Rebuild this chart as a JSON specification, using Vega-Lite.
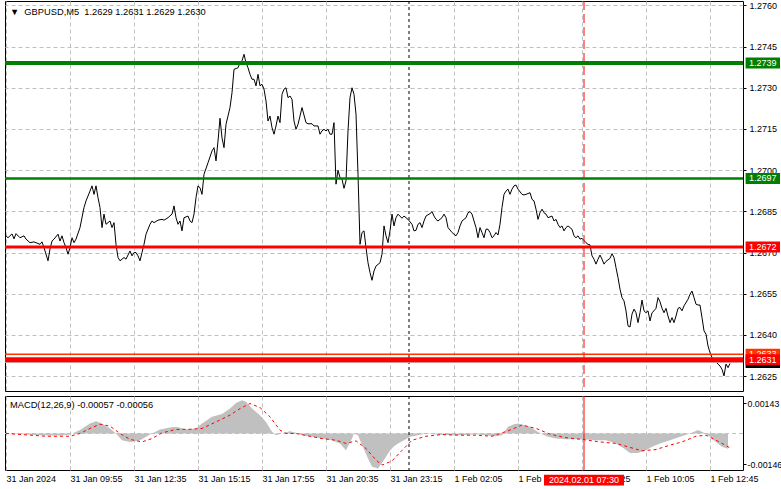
{
  "$schema": "https://vega.github.io/schema/vega-lite/v6.json",
  "background": "white",
  "padding": {"left": 2, "top": 0, "right": 2, "bottom": 0},
  "spacing": 3,
  "config": {
    "view": {"stroke": "#000000", "strokeWidth": 1},
    "font": "Liberation Sans",
    "axis": {"labelFont": "Liberation Sans", "labelFontSize": 9, "labelColor": "#000000", "gridColor": "#C0C0C0", "gridDash": [4, 3], "gridWidth": 1, "gridOpacity": 1, "tickColor": "#000000", "domain": false, "title": null, "labelFlush": false, "labelOverlap": false, "zindex": 0}
  },
  "datasets": {
    "one": [{}],
    "price": [
      {"bar":0,"close":1.26761},{"bar":1,"close":1.26754},{"bar":3,"close":1.26768},{"bar":4,"close":1.26750},{"bar":5,"close":1.26769},{"bar":7,"close":1.26754},{"bar":9,"close":1.26761},{"bar":10,"close":1.26749},{"bar":12,"close":1.26736},{"bar":14,"close":1.26739},{"bar":15,"close":1.26736},{"bar":17,"close":1.26730},{"bar":18,"close":1.26739},{"bar":19,"close":1.26718},{"bar":21,"close":1.26670},{"bar":22,"close":1.26713},{"bar":23,"close":1.26742},{"bar":24,"close":1.26749},{"bar":26,"close":1.26767},{"bar":27,"close":1.26742},{"bar":28,"close":1.26761},{"bar":29,"close":1.26736},{"bar":30,"close":1.26718},{"bar":31,"close":1.26694},{"bar":32,"close":1.26718},{"bar":33,"close":1.26754},{"bar":34,"close":1.26736},{"bar":35,"close":1.26749},{"bar":37,"close":1.26791},{"bar":39,"close":1.26864},{"bar":40,"close":1.26888},{"bar":42,"close":1.26924},{"bar":43,"close":1.26943},{"bar":44,"close":1.26912},{"bar":45,"close":1.26943},{"bar":46,"close":1.26900},{"bar":47,"close":1.26864},{"bar":48,"close":1.26791},{"bar":49,"close":1.26840},{"bar":50,"close":1.26803},{"bar":52,"close":1.26815},{"bar":53,"close":1.26791},{"bar":54,"close":1.26809},{"bar":55,"close":1.26730},{"bar":56,"close":1.26682},{"bar":57,"close":1.26670},{"bar":59,"close":1.26682},{"bar":60,"close":1.26676},{"bar":62,"close":1.26706},{"bar":63,"close":1.26688},{"bar":64,"close":1.26700},{"bar":65,"close":1.26700},{"bar":66,"close":1.26688},{"bar":67,"close":1.26670},{"bar":68,"close":1.26700},{"bar":69,"close":1.26730},{"bar":70,"close":1.26767},{"bar":72,"close":1.26803},{"bar":73,"close":1.26815},{"bar":74,"close":1.26809},{"bar":76,"close":1.26818},{"bar":78,"close":1.26821},{"bar":79,"close":1.26818},{"bar":81,"close":1.26827},{"bar":83,"close":1.26840},{"bar":84,"close":1.26870},{"bar":85,"close":1.26827},{"bar":86,"close":1.26803},{"bar":87,"close":1.26815},{"bar":88,"close":1.26779},{"bar":89,"close":1.26827},{"bar":91,"close":1.26833},{"bar":92,"close":1.26815},{"bar":93,"close":1.26809},{"bar":94,"close":1.26840},{"bar":95,"close":1.26900},{"bar":96,"close":1.26943},{"bar":97,"close":1.26936},{"bar":98,"close":1.26912},
      {"bar":99,"close":1.26985},{"bar":101,"close":1.27027},{"bar":103,"close":1.27070},{"bar":104,"close":1.27082},{"bar":105,"close":1.27034},{"bar":106,"close":1.27106},{"bar":107,"close":1.27189},{"bar":108,"close":1.27118},{"bar":109,"close":1.27082},{"bar":110,"close":1.27167},{"bar":112,"close":1.27228},{"bar":113,"close":1.27282},{"bar":114,"close":1.27367},{"bar":116,"close":1.27373},{"bar":117,"close":1.27391},{"bar":118,"close":1.27398},{"bar":119,"close":1.27422},{"bar":120,"close":1.27391},{"bar":121,"close":1.27373},{"bar":122,"close":1.27349},{"bar":123,"close":1.27331},{"bar":124,"close":1.27331},{"bar":125,"close":1.27307},{"bar":126,"close":1.27349},{"bar":127,"close":1.27307},{"bar":128,"close":1.27313},{"bar":129,"close":1.27295},{"bar":130,"close":1.27252},{"bar":131,"close":1.27179},{"bar":132,"close":1.27197},{"bar":133,"close":1.27155},{"bar":134,"close":1.27131},{"bar":135,"close":1.27161},{"bar":136,"close":1.27197},{"bar":137,"close":1.27173},{"bar":138,"close":1.27276},{"bar":139,"close":1.27295},{"bar":140,"close":1.27300},{"bar":141,"close":1.27264},{"bar":142,"close":1.27270},{"bar":143,"close":1.27258},{"bar":144,"close":1.27179},{"bar":145,"close":1.27149},{"bar":146,"close":1.27167},{"bar":147,"close":1.27197},{"bar":148,"close":1.27228},{"bar":150,"close":1.27173},{"bar":151,"close":1.27169},{"bar":153,"close":1.27169},{"bar":154,"close":1.27161},{"bar":156,"close":1.27161},{"bar":157,"close":1.27131},{"bar":158,"close":1.27143},{"bar":159,"close":1.27149},{"bar":160,"close":1.27143},{"bar":161,"close":1.27149},{"bar":162,"close":1.27131},{"bar":163,"close":1.27131},{"bar":164,"close":1.27173},{"bar":165,"close":1.26949},{"bar":166,"close":1.27000},{"bar":167,"close":1.26973},{"bar":168,"close":1.26967},{"bar":169,"close":1.26934},{"bar":170,"close":1.26961},{"bar":171,"close":1.27143},{"bar":172,"close":1.27264},{"bar":173,"close":1.27300},{"bar":174,"close":1.27276},{"bar":175,"close":1.27204},{"bar":176,"close":1.26985},{"bar":177,"close":1.26730},{"bar":178,"close":1.26773},{"bar":179,"close":1.26779},{"bar":180,"close":1.26718},{"bar":181,"close":1.26663},{"bar":182,"close":1.26627},{"bar":183,"close":1.26599},{"bar":184,"close":1.26633},{"bar":185,"close":1.26651},{"bar":187,"close":1.26663},{"bar":188,"close":1.26694},{"bar":189,"close":1.26797},{"bar":190,"close":1.26761},{"bar":191,"close":1.26736},{"bar":192,"close":1.26779},{"bar":193,"close":1.26840},{"bar":194,"close":1.26797},{"bar":195,"close":1.26827},{"bar":196,"close":1.26840},{"bar":198,"close":1.26825},{"bar":199,"close":1.26833},{"bar":200,"close":1.26827},{"bar":201,"close":1.26821},{"bar":203,"close":1.26803},{"bar":204,"close":1.26779},{"bar":205,"close":1.26781},{"bar":206,"close":1.26803},{"bar":207,"close":1.26809},{"bar":208,"close":1.26791},{"bar":209,"close":1.26815},{"bar":210,"close":1.26833},{"bar":212,"close":1.26842},{"bar":213,"close":1.26849},{"bar":214,"close":1.26833},{"bar":215,"close":1.26821},{"bar":216,"close":1.26815},{"bar":218,"close":1.26827},{"bar":219,"close":1.26840},{"bar":220,"close":1.26827},{"bar":221,"close":1.26791},{"bar":223,"close":1.26773},{"bar":224,"close":1.26767},{"bar":225,"close":1.26761},{"bar":226,"close":1.26773},{"bar":227,"close":1.26797},{"bar":228,"close":1.26815},{"bar":230,"close":1.26827},{"bar":231,"close":1.26845},{"bar":232,"close":1.26849},{"bar":233,"close":1.26840},{"bar":234,"close":1.26815},{"bar":235,"close":1.26791},{"bar":236,"close":1.26754},{"bar":237,"close":1.26791},{"bar":238,"close":1.26773},{"bar":239,"close":1.26754},{"bar":240,"close":1.26785},{"bar":241,"close":1.26785},{"bar":242,"close":1.26773},{"bar":243,"close":1.26754},{"bar":244,"close":1.26761},{"bar":245,"close":1.26773},{"bar":246,"close":1.26764},{"bar":247,"close":1.26803},{"bar":248,"close":1.26864},{"bar":249,"close":1.26912},{"bar":250,"close":1.26924},{"bar":251,"close":1.26931},{"bar":252,"close":1.26912},{"bar":253,"close":1.26931},{"bar":254,"close":1.26943},{"bar":255,"close":1.26946},{"bar":256,"close":1.26931},{"bar":258,"close":1.26912},{"bar":259,"close":1.26910},{"bar":260,"close":1.26912},{"bar":262,"close":1.26918},{"bar":263,"close":1.26894},{"bar":264,"close":1.26888},{"bar":265,"close":1.26858},{"bar":266,"close":1.26821},{"bar":267,"close":1.26845},{"bar":268,"close":1.26858},{"bar":269,"close":1.26845},{"bar":270,"close":1.26840},{"bar":271,"close":1.26827},{"bar":273,"close":1.26833},{"bar":274,"close":1.26815},{"bar":275,"close":1.26821},{"bar":276,"close":1.26803},{"bar":277,"close":1.26791},{"bar":278,"close":1.26797},{"bar":279,"close":1.26779},{"bar":280,"close":1.26791},{"bar":281,"close":1.26797},{"bar":283,"close":1.26785},{"bar":284,"close":1.26761},{"bar":285,"close":1.26754},{"bar":286,"close":1.26761},{"bar":287,"close":1.26749},{"bar":288,"close":1.26752},{"bar":290,"close":1.26736},{"bar":291,"close":1.26730},{"bar":292,"close":1.26728},{"bar":293,"close":1.26688},{"bar":294,"close":1.26676},{"bar":295,"close":1.26658},{"bar":296,"close":1.26676},{"bar":297,"close":1.26691},{"bar":298,"close":1.26676},{"bar":299,"close":1.26658},{"bar":300,"close":1.26668},{"bar":302,"close":1.26679},{"bar":303,"close":1.26696},{"bar":304,"close":1.26682},{"bar":305,"close":1.26645},{"bar":306,"close":1.26609},{"bar":307,"close":1.26567},{"bar":308,"close":1.26536},{"bar":309,"close":1.26524},{"bar":310,"close":1.26488},{"bar":311,"close":1.26433},{"bar":312,"close":1.26429},{"bar":313,"close":1.26476},{"bar":314,"close":1.26494},{"bar":315,"close":1.26481},{"bar":316,"close":1.26445},{"bar":317,"close":1.26481},{"bar":318,"close":1.26527},{"bar":319,"close":1.26488},{"bar":320,"close":1.26481},{"bar":321,"close":1.26488},{"bar":322,"close":1.26451},{"bar":323,"close":1.26481},{"bar":324,"close":1.26488},{"bar":325,"close":1.26497},{"bar":326,"close":1.26536},{"bar":327,"close":1.26521},{"bar":328,"close":1.26497},{"bar":329,"close":1.26481},{"bar":330,"close":1.26497},{"bar":331,"close":1.26469},{"bar":332,"close":1.26445},{"bar":333,"close":1.26463},{"bar":334,"close":1.26445},{"bar":335,"close":1.26469},{"bar":336,"close":1.26497},{"bar":337,"close":1.26500},{"bar":338,"close":1.26488},{"bar":339,"close":1.26506},{"bar":341,"close":1.26530},{"bar":342,"close":1.26548},{"bar":343,"close":1.26560},{"bar":344,"close":1.26536},{"bar":345,"close":1.26512},{"bar":346,"close":1.26509},{"bar":347,"close":1.26509},{"bar":348,"close":1.26463},{"bar":349,"close":1.26415},{"bar":350,"close":1.26403},{"bar":351,"close":1.26360},{"bar":352,"close":1.26336},{"bar":353,"close":1.26318},{"bar":355,"close":1.26302},{"bar":356,"close":1.26294},{"bar":357,"close":1.26287},{"bar":358,"close":1.26275},{"bar":359,"close":1.26251},{"bar":360,"close":1.26294},{"bar":361,"close":1.26281},{"bar":362,"close":1.26296}
    ],
    "macd": [
      {"bar":0,"macd":0},{"bar":8,"macd":-0.00003},{"bar":16,"macd":-0.00008},{"bar":24,"macd":-0.0001},{"bar":28,"macd":-0.0001},{"bar":32,"macd":-0.00005},{"bar":37,"macd":0.00016},{"bar":42,"macd":0.00047},{"bar":45,"macd":0.00058},{"bar":48,"macd":0.00047},{"bar":52,"macd":0.00024},{"bar":55,"macd":0},{"bar":58,"macd":-0.00032},{"bar":62,"macd":-0.0004},{"bar":67,"macd":-0.00032},{"bar":70,"macd":-0.00016},{"bar":73,"macd":0},{"bar":77,"macd":0.00019},{"bar":82,"macd":0.00028},{"bar":85,"macd":0.00032},{"bar":90,"macd":0.0002},{"bar":95,"macd":0.00024},{"bar":98,"macd":0.00047},{"bar":103,"macd":0.00079},{"bar":108,"macd":0.00092},{"bar":112,"macd":0.00118},{"bar":115,"macd":0.00145},{"bar":118,"macd":0.00158},{"bar":120,"macd":0.0015},{"bar":123,"macd":0.00118},{"bar":127,"macd":0.00087},{"bar":130,"macd":0.00055},{"bar":133,"macd":0.00008},{"bar":135,"macd":-0.00008},{"bar":139,"macd":0.00003},{"bar":142,"macd":0.00011},{"bar":145,"macd":0.00003},{"bar":148,"macd":-0.00008},{"bar":153,"macd":-0.00016},{"bar":158,"macd":-0.00024},{"bar":163,"macd":-0.00032},{"bar":167,"macd":-0.00047},{"bar":170,"macd":-0.00079},{"bar":173,"macd":-0.00024},{"bar":174,"macd":0},{"bar":176,"macd":-0.00008},{"bar":178,"macd":-0.00055},{"bar":181,"macd":-0.00119},{"bar":183,"macd":-0.00158},{"bar":186,"macd":-0.00166},{"bar":188,"macd":-0.0014},{"bar":190,"macd":-0.0011},{"bar":192,"macd":-0.0008},{"bar":194,"macd":-0.0006},{"bar":196,"macd":-0.00047},{"bar":199,"macd":-0.00032},{"bar":202,"macd":-0.00016},{"bar":206,"macd":-0.00008},{"bar":210,"macd":0},{"bar":215,"macd":-0.00005},{"bar":222,"macd":-0.00008},{"bar":228,"macd":-0.00008},{"bar":235,"macd":-0.00003},{"bar":240,"macd":-0.00008},{"bar":245,"macd":-0.00013},{"bar":248,"macd":-0.00008},{"bar":251,"macd":0.00032},{"bar":254,"macd":0.00044},{"bar":256,"macd":0.00047},{"bar":259,"macd":0.0004},{"bar":262,"macd":0.00032},{"bar":265,"macd":0.00013},{"bar":268,"macd":-0.00003},{"bar":271,"macd":-0.00016},{"bar":275,"macd":-0.00024},{"bar":280,"macd":-0.00027},{"bar":285,"macd":-0.00027},{"bar":290,"macd":-0.00028},{"bar":295,"macd":-0.00032},{"bar":300,"macd":-0.00032},{"bar":305,"macd":-0.00047},{"bar":309,"macd":-0.00071},{"bar":312,"macd":-0.00092},{"bar":316,"macd":-0.00092},{"bar":320,"macd":-0.00079},{"bar":323,"macd":-0.00063},{"bar":327,"macd":-0.00047},{"bar":332,"macd":-0.00032},{"bar":337,"macd":-0.00016},{"bar":342,"macd":0},{"bar":346,"macd":0.00016},{"bar":349,"macd":0.00003},{"bar":352,"macd":-0.00016},{"bar":355,"macd":-0.0004},{"bar":358,"macd":-0.00063},{"bar":361,"macd":-0.00072}
    ],
    "signal": [
      {"bar":0,"signal":0},{"bar":20,"signal":-0.00013},{"bar":32,"signal":-0.00013},{"bar":37,"signal":0},{"bar":42,"signal":0.00024},{"bar":47,"signal":0.00044},{"bar":52,"signal":0.00035},{"bar":57,"signal":0},{"bar":62,"signal":-0.00028},{"bar":68,"signal":-0.0004},{"bar":73,"signal":-0.00024},{"bar":78,"signal":0.00003},{"bar":85,"signal":0.00019},{"bar":92,"signal":0.0002},{"bar":98,"signal":0.00024},{"bar":105,"signal":0.00055},{"bar":112,"signal":0.00087},{"bar":117,"signal":0.00118},{"bar":122,"signal":0.00142},{"bar":127,"signal":0.00123},{"bar":132,"signal":0.00079},{"bar":137,"signal":0.00016},{"bar":140,"signal":0},{"bar":145,"signal":0},{"bar":152,"signal":-0.00013},{"bar":158,"signal":-0.00024},{"bar":165,"signal":-0.00032},{"bar":170,"signal":-0.00047},{"bar":175,"signal":-0.00035},{"bar":180,"signal":-0.00071},{"bar":185,"signal":-0.00126},{"bar":188,"signal":-0.0015},{"bar":193,"signal":-0.0013},{"bar":198,"signal":-0.0008},{"bar":203,"signal":-0.00032},{"bar":210,"signal":-0.00013},{"bar":218,"signal":-0.00005},{"bar":227,"signal":-0.00008},{"bar":235,"signal":-0.00008},{"bar":243,"signal":-0.00013},{"bar":252,"signal":0.00016},{"bar":258,"signal":0.0004},{"bar":265,"signal":0.00024},{"bar":272,"signal":-0.00003},{"bar":280,"signal":-0.0002},{"bar":288,"signal":-0.00028},{"bar":297,"signal":-0.0004},{"bar":305,"signal":-0.00047},{"bar":312,"signal":-0.00066},{"bar":318,"signal":-0.00082},{"bar":325,"signal":-0.00076},{"bar":332,"signal":-0.00055},{"bar":338,"signal":-0.0004},{"bar":345,"signal":-0.00013},{"bar":350,"signal":-0.00008},{"bar":355,"signal":-0.00032},{"bar":358,"signal":-0.00047},{"bar":362,"signal":-0.00068}
    ]
  },
  "vconcat": [
    {
      "width": 738,
      "height": 390,
      "layer": [
        {
          "data": {"name": "price"},
          "mark": {"type": "line", "color": "#000000", "strokeWidth": 1},
          "encoding": {
            "x": {"field": "bar", "type": "quantitative", "scale": {"domain": [-0.5, 368.5], "nice": false, "zero": false},
                  "axis": {"values": [0,16,32,48,64,80,96,112,128,144,160,176,192,208,224,240,256,272,288,304,320,336,352,368], "labels": false, "ticks": false, "grid": true}},
            "y": {"field": "close", "type": "quantitative", "scale": {"domain": [1.26196, 1.27616], "nice": false, "zero": false},
                  "axis": {"orient": "right", "values": [1.2625,1.264,1.2655,1.267,1.2685,1.27,1.2715,1.273,1.2745,1.276], "format": ".4f", "tickSize": 3, "labelPadding": 3, "grid": true}}
          }
        },
        {"data": {"name": "one"}, "mark": {"type": "rule", "color": "#000000", "strokeWidth": 1, "strokeDash": [3, 3]}, "encoding": {"x": {"datum": 201.5}}},
        {"data": {"name": "one"}, "mark": {"type": "rule", "color": "#FF0000", "strokeWidth": 1, "strokeDash": [9, 4]}, "encoding": {"x": {"datum": 289}}},
        {"data": {"name": "one"}, "mark": {"type": "rule", "color": "#008000", "strokeWidth": 4}, "encoding": {"y": {"datum": 1.2739}}},
        {"data": {"name": "one"}, "mark": {"type": "rule", "color": "#008000", "strokeWidth": 2.5}, "encoding": {"y": {"datum": 1.2697}}},
        {"data": {"name": "one"}, "mark": {"type": "rule", "color": "#FF0000", "strokeWidth": 3}, "encoding": {"y": {"datum": 1.2672}}},
        {"data": {"name": "one"}, "mark": {"type": "rule", "color": "#C0C0C0", "strokeWidth": 1}, "encoding": {"y": {"datum": 1.263}}},
        {"data": {"name": "one"}, "mark": {"type": "rule", "color": "#FF3300", "strokeWidth": 1.5}, "encoding": {"y": {"datum": 1.2633}}},
        {"data": {"name": "one"}, "mark": {"type": "rule", "color": "#FF0000", "strokeWidth": 5}, "encoding": {"y": {"datum": 1.2631}}},
        {"data": {"name": "one"}, "mark": {"type": "text", "align": "left", "baseline": "middle", "fontSize": 9.3, "color": "#000000"},
         "encoding": {"x": {"datum": 2}, "y": {"datum": 1.27576}, "text": {"value": "▼\u00a0\u00a0GBPUSD,M5\u00a0\u00a01.2629 1.2631 1.2629 1.2630"}}},
        {"data": {"name": "one"}, "mark": {"type": "rect", "color": "#008000"}, "encoding": {"x": {"datum": 369.8}, "x2": {"datum": 387}, "y": {"datum": 1.2741}, "y2": {"datum": 1.2737}}},
        {"data": {"name": "one"}, "mark": {"type": "text", "align": "left", "baseline": "middle", "fontSize": 9, "color": "#FFFFFF"}, "encoding": {"x": {"datum": 371.5}, "y": {"datum": 1.2739}, "text": {"value": "1.2739"}}},
        {"data": {"name": "one"}, "mark": {"type": "rect", "color": "#008000"}, "encoding": {"x": {"datum": 369.8}, "x2": {"datum": 387}, "y": {"datum": 1.2699}, "y2": {"datum": 1.2695}}},
        {"data": {"name": "one"}, "mark": {"type": "text", "align": "left", "baseline": "middle", "fontSize": 9, "color": "#FFFFFF"}, "encoding": {"x": {"datum": 371.5}, "y": {"datum": 1.2697}, "text": {"value": "1.2697"}}},
        {"data": {"name": "one"}, "mark": {"type": "rect", "color": "#FF0000"}, "encoding": {"x": {"datum": 369.8}, "x2": {"datum": 387}, "y": {"datum": 1.2674}, "y2": {"datum": 1.267}}},
        {"data": {"name": "one"}, "mark": {"type": "text", "align": "left", "baseline": "middle", "fontSize": 9, "color": "#FFFFFF"}, "encoding": {"x": {"datum": 371.5}, "y": {"datum": 1.2672}, "text": {"value": "1.2672"}}},
        {"data": {"name": "one"}, "mark": {"type": "rect", "color": "#000000"}, "encoding": {"x": {"datum": 369.8}, "x2": {"datum": 387}, "y": {"datum": 1.2632}, "y2": {"datum": 1.2628}}},
        {"data": {"name": "one"}, "mark": {"type": "text", "align": "left", "baseline": "middle", "fontSize": 9, "color": "#FFFFFF"}, "encoding": {"x": {"datum": 371.5}, "y": {"datum": 1.263}, "text": {"value": "1.2630"}}},
        {"data": {"name": "one"}, "mark": {"type": "rect", "color": "#FF3300"}, "encoding": {"x": {"datum": 369.8}, "x2": {"datum": 387}, "y": {"datum": 1.2635}, "y2": {"datum": 1.2631}}},
        {"data": {"name": "one"}, "mark": {"type": "text", "align": "left", "baseline": "middle", "fontSize": 9, "color": "#FFFFFF"}, "encoding": {"x": {"datum": 371.5}, "y": {"datum": 1.2633}, "text": {"value": "1.2633"}}},
        {"data": {"name": "one"}, "mark": {"type": "rect", "color": "#FF0000"}, "encoding": {"x": {"datum": 369.8}, "x2": {"datum": 387}, "y": {"datum": 1.2633}, "y2": {"datum": 1.2629}}},
        {"data": {"name": "one"}, "mark": {"type": "text", "align": "left", "baseline": "middle", "fontSize": 9, "color": "#FFFFFF"}, "encoding": {"x": {"datum": 371.5}, "y": {"datum": 1.2631}, "text": {"value": "1.2631"}}}
      ]
    },
    {
      "width": 738,
      "height": 74,
      "layer": [
        {
          "data": {"name": "macd"},
          "mark": {"type": "area", "color": "#C0C0C0", "opacity": 1},
          "encoding": {
            "x": {"field": "bar", "type": "quantitative", "scale": {"domain": [-0.5, 368.5], "nice": false, "zero": false},
                  "axis": {"values": [0,16,32,48,64,80,96,112,128,144,160,176,192,208,224,240,256,272,288,304,320,336,352,368], "ticks": false, "grid": true, "labelAlign": "left", "labelBaseline": "top", "labelPadding": 4,
                           "labelExpr": "datum.value % 32 == 0 ? ['31 Jan 2024','31 Jan 09:55','31 Jan 12:35','31 Jan 15:15','31 Jan 17:55','31 Jan 20:35','31 Jan 23:15','1 Feb 02:05','1 Feb 04:45','1 Feb 07:25','1 Feb 10:05','1 Feb 12:45'][datum.value / 32] : ''"}},
            "y": {"field": "macd", "type": "quantitative", "scale": {"domain": [-0.00173, 0.001777], "nice": false, "zero": false},
                  "axis": {"orient": "right", "values": [-0.00146, 0, 0.00143], "grid": false, "tickSize": 3, "labelPadding": 1, "labelFontSize": 8.8,
                           "labelExpr": "datum.value == 0 ? '0.00' : (datum.value > 0 ? '0.00143' : '-0.00146')"}},
            "y2": {"datum": 0}
          }
        },
        {"data": {"name": "one"}, "mark": {"type": "rule", "color": "#C0C0C0", "strokeWidth": 1, "strokeDash": [4, 3]}, "encoding": {"y": {"datum": 0}}},
        {
          "data": {"name": "signal"},
          "mark": {"type": "line", "color": "#FF0000", "strokeWidth": 1, "strokeDash": [3, 3]},
          "encoding": {
            "x": {"field": "bar", "type": "quantitative"},
            "y": {"field": "signal", "type": "quantitative"}
          }
        },
        {"data": {"name": "one"}, "mark": {"type": "rule", "color": "#000000", "strokeWidth": 1, "strokeDash": [3, 3]}, "encoding": {"x": {"datum": 201.5}}},
        {"data": {"name": "one"}, "mark": {"type": "rule", "color": "#FF0000", "strokeWidth": 1}, "encoding": {"x": {"datum": 289}}},
        {"data": {"name": "one"}, "mark": {"type": "text", "align": "left", "baseline": "middle", "fontSize": 9.3, "color": "#000000"},
         "encoding": {"x": {"datum": 2}, "y": {"datum": 0.00136}, "text": {"value": "MACD(12,26,9) -0.00057 -0.00056"}}},
        {"data": {"name": "one"}, "mark": {"type": "rect", "color": "#FF0000"}, "encoding": {"x": {"datum": 269}, "x2": {"datum": 309}, "y": {"datum": -0.00195}, "y2": {"datum": -0.00247}}},
        {"data": {"name": "one"}, "mark": {"type": "text", "align": "center", "baseline": "middle", "fontSize": 9, "color": "#FFFFFF"}, "encoding": {"x": {"datum": 289}, "y": {"datum": -0.00221}, "text": {"value": "2024.02.01 07:30"}}}
      ]
    }
  ]
}
